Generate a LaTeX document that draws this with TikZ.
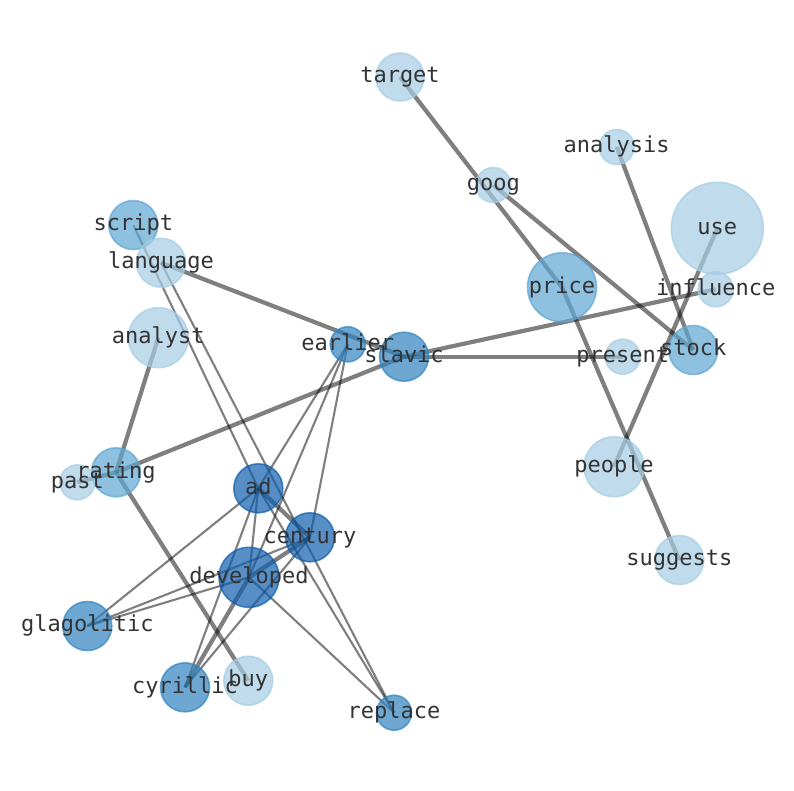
\documentclass[tikz,border=0pt]{standalone}
\usepackage{fontspec}
\setmonofont{DejaVu Sans Mono}
\usetikzlibrary{backgrounds}
\definecolor{paleblue}{HTML}{A5CDE4}
\definecolor{midblue}{HTML}{5EA6D3}
\definecolor{deepblue}{HTML}{3083BF}
\definecolor{darkblue}{HTML}{105EAC}
\definecolor{labelgray}{HTML}{333333}

\begin{document}
\begin{tikzpicture}[x=1pt, y=-1pt,
  word/.style={font=\ttfamily\fontsize{22}{22}\selectfont, text=labelgray, inner sep=0pt, text height=16.7pt, text depth=5.3pt},
  dot/.style={line width=1.6pt, fill opacity=0.7, draw opacity=0.7},
  paledot/.style={dot, fill=paleblue, draw=paleblue},
  middot/.style={dot, fill=midblue, draw=midblue},
  deepdot/.style={dot, fill=deepblue, draw=deepblue},
  darkdot/.style={dot, fill=darkblue, draw=darkblue},
  strong/.style={draw=black, draw opacity=0.5, line width=4.2pt},
  weak/.style={draw=black, draw opacity=0.5, line width=2.1pt}]
\useasboundingbox (0,0) rectangle (794,790);

% Word labels (drawn on top)
\node[word] (target) at (400,77) {target};
\node[word] (analysis) at (616.7,147) {analysis};
\node[word] (goog) at (493.3,185) {goog};
\node[word] (use) at (717.3,228.3) {use};
\node[word] (script) at (133.3,225) {script};
\node[word] (language) at (161,262.7) {language};
\node[word] (price) at (562,287.3) {price};
\node[word] (influence) at (715.7,289.3) {influence};
\node[word] (analyst) at (158.3,337.7) {analyst};
\node[word] (earlier) at (347.7,344.3) {earlier};
\node[word] (slavic) at (404,356.7) {slavic};
\node[word] (present) at (622.7,356.7) {present};
\node[word] (stock) at (693.3,350) {stock};
\node[word] (people) at (614,466.7) {people};
\node[word] (rating) at (116,472.3) {rating};
\node[word] (past) at (77.3,482.3) {past};
\node[word] (ad) at (258.3,488.3) {ad};
\node[word] (century) at (310,537.3) {century};
\node[word] (developed) at (249,577.3) {developed};
\node[word] (suggests) at (679.3,560) {suggests};
\node[word] (glagolitic) at (87.3,626) {glagolitic};
\node[word] (cyrillic) at (185,687.3) {cyrillic};
\node[word] (buy) at (248.3,680.7) {buy};
\node[word] (replace) at (394,712.7) {replace};

\begin{scope}[on background layer]
% Heavy links
\draw[strong] (target.center) -- (price.center);
\draw[strong] (goog.center) -- (stock.center);
\draw[strong] (analysis.center) -- (stock.center);
\draw[strong] (use.center) -- (people.center);
\draw[strong] (price.center) -- (suggests.center);
\draw[strong] (slavic.center) -- (influence.center);
\draw[strong] (slavic.center) -- (present.center);
\draw[strong] (language.center) -- (slavic.center);
\draw[strong] (slavic.center) -- (rating.center);
\draw[strong] (analyst.center) -- (rating.center);
\draw[strong] (rating.center) -- (past.center);
\draw[strong] (rating.center) -- (buy.center);
\draw[strong] (ad.center) -- (century.center);
\draw[strong] (cyrillic.center) -- (developed.center);
\draw[strong] (developed.center) -- (century.center);

% Light links
\draw[weak] (script.center) -- (ad.center);
\draw[weak] (language.center) -- (replace.center);
\draw[weak] (earlier.center) -- (ad.center);
\draw[weak] (earlier.center) -- (developed.center);
\draw[weak] (earlier.center) -- (century.center);
\draw[weak] (glagolitic.center) -- (ad.center);
\draw[weak] (glagolitic.center) -- (century.center);
\draw[weak] (glagolitic.center) -- (developed.center);
\draw[weak] (cyrillic.center) -- (ad.center);
\draw[weak] (cyrillic.center) -- (century.center);
\draw[weak] (ad.center) -- (developed.center);
\draw[weak] (ad.center) -- (replace.center);
\draw[weak] (developed.center) -- (replace.center);

% Word circles
\path[paledot] (target.center) circle[radius=24];
\path[paledot] (analysis.center) circle[radius=17.5];
\path[paledot] (goog.center) circle[radius=17.5];
\path[paledot] (use.center) circle[radius=46];
\path[middot] (script.center) circle[radius=24.5];
\path[paledot] (language.center) circle[radius=24.5];
\path[middot] (price.center) circle[radius=34.5];
\path[paledot] (influence.center) circle[radius=17.5];
\path[paledot] (analyst.center) circle[radius=30];
\path[deepdot] (earlier.center) circle[radius=17.5];
\path[deepdot] (slavic.center) circle[radius=24.5];
\path[paledot] (present.center) circle[radius=17.5];
\path[middot] (stock.center) circle[radius=24.5];
\path[paledot] (people.center) circle[radius=30];
\path[middot] (rating.center) circle[radius=24.5];
\path[paledot] (past.center) circle[radius=17.5];
\path[darkdot] (ad.center) circle[radius=24.5];
\path[darkdot] (century.center) circle[radius=24.5];
\path[darkdot] (developed.center) circle[radius=30];
\path[paledot] (suggests.center) circle[radius=24.5];
\path[deepdot] (glagolitic.center) circle[radius=24.5];
\path[deepdot] (cyrillic.center) circle[radius=24.5];
\path[paledot] (buy.center) circle[radius=24.5];
\path[deepdot] (replace.center) circle[radius=17.5];
\end{scope}

\end{tikzpicture}
\end{document}
